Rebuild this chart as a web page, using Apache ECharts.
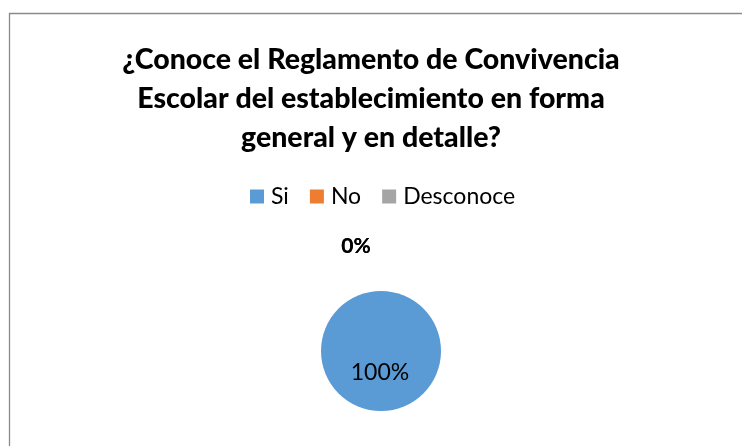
<!DOCTYPE html>
<html>
<head>
<meta charset="utf-8">
<script src="https://cdn.jsdelivr.net/npm/echarts@6/dist/echarts.min.js"></script>
<style>
  html, body { margin: 0; padding: 0; background: #fff; }
  #chart { width: 742px; height: 446px; }
</style>
</head>
<body>
<div id="chart"></div>
<script>
// datos de la encuesta
const categories = ['Si', 'No', 'Desconoce']
const values = [100, 0, 0]
const colors = ['#5B9BD5', '#ED7D31', '#A5A5A5']
const titleText = '¿Conoce el Reglamento de Convivencia\nEscolar del establecimiento en forma\ngeneral y en detalle?'

const font = 'Lato'
const cx = 381
const cy = 351
const radius = 60

const myChart = echarts.init(document.getElementById('chart'))

const total = values.reduce((a, b) => a + b, 0)
const pieData = categories.map((name, i) => ({ name, value: values[i] }))

const options = {
  backgroundColor: '#fff',
  color: colors,
  animation: false,
  graphic: [
    {
      type: 'rect',
      shape: { x: 9.5, y: 13.5, width: 800, height: 500 },
      style: { fill: 'none', stroke: '#8a8a8a', lineWidth: 1.3 },
      silent: true
    }
  ],
  title: {
    text: titleText,
    left: 'center',
    top: 35,
    textStyle: {
      fontFamily: font,
      fontWeight: 900,
      fontSize: 28.5,
      lineHeight: 39,
      color: '#000'
    }
  },
  legend: {
    data: categories,
    top: 180,
    left: 245,
    icon: 'rect',
    itemWidth: 14,
    itemHeight: 14,
    itemGap: 21,
    textStyle: { fontFamily: font, fontSize: 23, color: '#000', padding: [0, 0, 0, 2] }
  },
  series: [
    {
      type: 'pie',
      center: [cx, cy],
      radius: radius,
      startAngle: 90,
      clockwise: true,
      data: pieData,
      itemStyle: { borderWidth: 0 },
      label: {
        show: true,
        position: 'inside',
        fontFamily: font,
        fontSize: 23,
        color: '#000',
        formatter: (p) => {
          const pct = Math.round(p.value / total * 100) + '%'
          return p.value === 0 ? '{z|' + pct + '}' : pct
        },
        rich: {
          z: { fontFamily: font, fontSize: 21, fontWeight: 'bold', color: '#000' }
        }
      },
      labelLine: { show: false },
      // las etiquetas de 0% quedan encima del grafico, la de 100% dentro
      labelLayout: (p) => {
        if (values[p.dataIndex] === 0) {
          return { x: cx - 25, y: cy - 105, align: 'center', verticalAlign: 'middle' }
        }
        return { x: cx - 1, y: cy + 22, align: 'center', verticalAlign: 'middle' }
      }
    }
  ]
}

myChart.setOption(options)
</script>
</body>
</html>
